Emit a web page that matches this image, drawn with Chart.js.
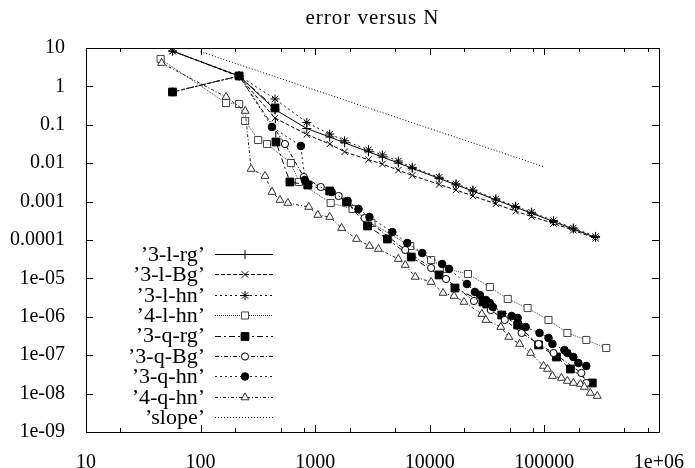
<!DOCTYPE html>
<html><head><meta charset="utf-8">
<script src="https://cdn.jsdelivr.net/npm/chart.js@4.4.1/dist/chart.umd.min.js"></script>
<style>html,body{margin:0;padding:0;background:#fff}canvas{display:block}</style>
</head><body>
<canvas id="c" width="695" height="468"></canvas>
<script>
// ---------- data ----------
const N_3l      = [57, 217, 446, 845, 1340, 1807, 2920, 3860, 5320, 7030, 12070, 16950, 23800, 37700, 56200, 77400, 120200, 179000, 280000];
const err_3l_rg = [8.3, 1.86, 0.25, 0.080, 0.048, 0.034, 0.0198, 0.0145, 0.0101, 0.00736, 0.00402, 0.00274, 0.00188, 0.00111, 0.000711, 0.000496, 0.000303, 0.000193, 0.000117];
const err_3l_Bg = [8.3, 1.8, 0.15, 0.056, 0.0315, 0.0198, 0.0123, 0.0095, 0.0066, 0.0048, 0.0028, 0.0020, 0.0014, 0.00087, 0.00056, 0.00041, 0.00027, 0.00018, 0.00011];
const err_3l_hn = [8.3, 1.9, 0.47, 0.115, 0.0575, 0.0384, 0.0223, 0.0164, 0.0114, 0.0078, 0.0043, 0.0029, 0.0020, 0.00118, 0.00075, 0.00053, 0.00032, 0.000205, 0.000124];

const N_4l_hn   = [44.8, 167, 217, 245, 318, 380, 614, 721, 1366, 2120, 3100, 6760, 10280, 14160, 21550, 33420, 47950, 71450, 108700, 158900, 232300, 346700];
const err_4l_hn = [5.17, 0.37, 0.348, 0.1256, 0.0402, 0.0316, 0.0101, 0.00324, 0.00092, 0.000641, 0.000277, 6.98e-5, 3.01e-5, 1.76e-5, 1.30e-5, 5.97e-6, 2.91e-6, 1.69e-6, 8.26e-7, 3.79e-7, 2.49e-7, 1.54e-7];

const N_3q_rg   = [56.9, 217, 446, 455, 602, 862, 1340, 1881, 2862, 4266, 6896, 12070, 16600, 29100, 31500, 42500, 58500, 89100, 127600, 168700, 262000];
const err_3q_rg = [0.715, 1.87, 0.274, 0.0357, 0.00324, 0.0027, 0.00189, 0.000977, 0.000232, 0.000106, 3.61e-5, 1.23e-5, 5.62e-6, 2.43e-6, 2.15e-6, 1.11e-6, 6.11e-7, 1.85e-7, 8.98e-8, 4.37e-8, 1.89e-8];

const N_3q_Bg   = [56.9, 217, 545, 796, 1119, 1603, 2697, 6112, 10280, 13870, 24300, 34100, 45150, 63400, 89100, 120200, 210400, 232300];
const err_3q_Bg = [0.715, 1.87, 0.0316, 0.00437, 0.0024, 0.0014, 0.000374, 5.5e-5, 1.87e-5, 9.64e-6, 2.58e-6, 1.5e-6, 8.26e-7, 3.79e-7, 1.96e-7, 1.14e-7, 3.44e-8, 1.89e-8];

const N_3q_hn   = [56.9, 217, 420, 750, 812, 1393, 1919, 2390, 2978, 4717, 6368, 8590, 12820, 14730, 21130, 24780, 27380, 30900, 33420, 35500, 51900, 58500, 68700, 90800, 108700, 117800, 149700, 158900, 179200, 198100, 232300];
const err_3q_hn = [0.715, 1.87, 0.0877, 0.0281, 0.00365, 0.00178, 0.00104, 0.000641, 0.000397, 0.000161, 8.36e-5, 4.58e-5, 2.37e-5, 1.76e-5, 7.15e-6, 4.43e-6, 3.7e-6, 2.74e-6, 2.29e-6, 1.8e-6, 1.05e-6, 9.31e-7, 5.42e-7, 3.79e-7, 2.81e-7, 1.96e-7, 1.36e-7, 1.14e-7, 8.98e-8, 6.27e-8, 5.24e-8];

const N_4q_hn   = [45.7, 167, 245, 276, 365, 420, 493, 578, 880, 1054, 1340, 1702, 2297, 2978, 3566, 5320, 6112, 7470, 10280, 13070, 16290, 19900, 28500, 30900, 41700, 48900, 60900, 75900, 98400, 106600, 117800, 141000, 158900, 179200, 206200, 223400, 251800, 289500];
const err_4q_hn = [4.06, 0.53, 0.229, 0.00706, 0.00464, 0.00178, 0.0011, 0.00092, 0.000723, 0.000448, 0.000397, 0.000205, 0.000106, 6.98e-5, 5.83e-5, 3.2e-5, 2.23e-5, 1.09e-5, 8.05e-6, 4.17e-6, 3.48e-6, 2.43e-6, 1.18e-6, 8.26e-7, 5.42e-7, 2.98e-7, 1.96e-7, 1.14e-7, 5.24e-8, 4.37e-8, 2.87e-8, 2.55e-8, 2.13e-8, 1.89e-8, 1.78e-8, 1.49e-8, 1.04e-8, 8.66e-9];

const N_slope   = [100, 100000];
const err_slope = [8, 0.008];

const seriesNames = ["’3-l-rg’", "’3-l-Bg’", "’3-l-hn’", "’4-l-hn’", "’3-q-rg’", "’3-q-Bg’", "’3-q-hn’", "’4-q-hn’", "’slope’"];

const X_TICKS  = [10, 100, 1000, 10000, 100000, 1000000];
const X_LABELS = ['10', '100', '1000', '10000', '100000', '1e+06'];
const X_MINOR  = [20, 200, 500, 800, 2000, 5000, 20000, 50000, 80000, 200000, 500000, 800000];
const Y_TICKS  = [10, 1, 0.1, 0.01, 0.001, 0.0001, 1e-5, 1e-6, 1e-7, 1e-8, 1e-9];
const Y_LABELS = ['10', '1', '0.1', '0.01', '0.001', '0.0001', '1e-05', '1e-06', '1e-07', '1e-08', '1e-09'];
const TITLE = 'error versus N';

// ---------- styles ----------
const FONT = '"Liberation Serif", "DejaVu Serif", serif';
const pts = (xs, ys) => xs.map((x, i) => ({x: x, y: ys[i]}));
const styles = [
  {data: pts(N_3l, err_3l_rg), dash: [], color: '#000', ps: 'cross', r: 4.5, fill: '#000', pc: '#000'},
  {data: pts(N_3l, err_3l_Bg), dash: [4, 2], color: '#000', ps: 'crossRot', r: 4.5, fill: '#000', pc: '#000'},
  {data: pts(N_3l, err_3l_hn), dash: [2, 3], color: '#111', ps: 'star', r: 4.5, fill: '#000', pc: '#000'},
  {data: pts(N_4l_hn, err_4l_hn), dash: [1, 1], color: '#444', ps: 'rect', r: 5, fill: '#fff', pc: '#444'},
  {data: pts(N_3q_rg, err_3q_rg), dash: [6, 3, 2, 3], color: '#000', ps: 'rect', r: 5.5, fill: '#000', pc: '#000'},
  {data: pts(N_3q_Bg, err_3q_Bg), dash: [4, 2, 1, 2], color: '#000', ps: 'circle', r: 3.6, fill: '#fff', pc: '#000'},
  {data: pts(N_3q_hn, err_3q_hn), dash: [2, 3], color: '#222', ps: 'circle', r: 3.8, fill: '#000', pc: '#000'},
  {data: pts(N_4q_hn, err_4q_hn), dash: [3, 2, 1, 2], color: '#222', ps: 'triangle', r: 4.6, fill: '#fff', pc: '#333'},
  {data: pts(N_slope, err_slope), dash: [1, 2], color: '#000', ps: false, r: 0, fill: '#000', pc: '#000'}
];

const datasets = styles.map((s, i) => ({
  label: seriesNames[i],
  data: s.data,
  borderColor: s.color,
  borderWidth: 1,
  borderDash: s.dash,
  pointStyle: s.ps,
  pointRadius: s.r,
  pointHoverRadius: s.r,
  pointBackgroundColor: s.fill,
  pointBorderColor: s.pc,
  pointBorderWidth: 1,
  fill: false,
  tension: 0,
  order: -i
}));

// ---------- plugins ----------
const framePlugin = {
  id: 'frame',
  beforeDatasetsDraw(chart) {
    const {ctx, chartArea: a, scales: {x, y}} = chart;
    ctx.save();
    ctx.strokeStyle = '#000';
    ctx.lineWidth = 1;
    ctx.setLineDash([]);
    ctx.beginPath();
    ctx.rect(Math.round(a.left) + 0.5, Math.round(a.top) + 0.5, Math.round(a.right - a.left), Math.round(a.bottom - a.top));
    ctx.stroke();
    ctx.beginPath();
    const major = 7, minor = 4;
    X_TICKS.forEach(v => {
      const px = Math.round(x.getPixelForValue(v)) + 0.5;
      ctx.moveTo(px, a.bottom); ctx.lineTo(px, a.bottom - major);
      ctx.moveTo(px, a.top); ctx.lineTo(px, a.top + major);
    });
    X_MINOR.forEach(v => {
      const px = Math.round(x.getPixelForValue(v)) + 0.5;
      ctx.moveTo(px, a.bottom); ctx.lineTo(px, a.bottom - minor);
      ctx.moveTo(px, a.top); ctx.lineTo(px, a.top + minor);
    });
    Y_TICKS.forEach(v => {
      const py = Math.round(y.getPixelForValue(v)) + 0.5;
      ctx.moveTo(a.left, py); ctx.lineTo(a.left + major, py);
      ctx.moveTo(a.right, py); ctx.lineTo(a.right - major, py);
    });
    ctx.stroke();
    // title
    ctx.fillStyle = '#000';
    ctx.font = '21px ' + FONT;
    if ('letterSpacing' in ctx) ctx.letterSpacing = '1px';
    ctx.textAlign = 'center';
    ctx.textBaseline = 'middle';
    ctx.fillText(TITLE, (a.left + a.right) / 2, 18);
    if ('letterSpacing' in ctx) ctx.letterSpacing = '0px';
    ctx.restore();
  }
};

const legendPlugin = {
  id: 'gpLegend',
  afterDraw(chart) {
    const ctx = chart.ctx;
    ctx.save();
    const textRight = 205, lineL = 215, lineR = 273, markX = 245, y0 = 254, dy = 20.4;
    chart.data.datasets.forEach((ds, i) => {
      const y = y0 + i * dy;
      ctx.fillStyle = '#000';
      ctx.font = '22px ' + FONT;
      ctx.textAlign = 'right';
      ctx.textBaseline = 'middle';
      ctx.setLineDash([]);
      ctx.fillText(ds.label, textRight, y + 1);
      ctx.strokeStyle = ds.borderColor;
      ctx.lineWidth = 1;
      ctx.setLineDash(ds.borderDash);
      ctx.beginPath();
      ctx.moveTo(lineL, Math.round(y) + 0.5);
      ctx.lineTo(lineR, Math.round(y) + 0.5);
      ctx.stroke();
      ctx.setLineDash([]);
      if (ds.pointStyle) {
        ctx.fillStyle = ds.pointBackgroundColor;
        ctx.strokeStyle = ds.pointBorderColor;
        Chart.helpers.drawPoint(ctx, {pointStyle: ds.pointStyle, radius: ds.pointRadius, borderWidth: 1, rotation: 0}, markX, Math.round(y) + 0.5);
      }
    });
    ctx.restore();
  }
};

new Chart(document.getElementById('c'), {
  type: 'line',
  data: {datasets: datasets},
  plugins: [framePlugin, legendPlugin],
  options: {
    responsive: false,
    animation: false,
    devicePixelRatio: 1,
    layout: {padding: {top: 48, right: 33, left: 0, bottom: 0}},
    plugins: {legend: {display: false}, title: {display: false}, tooltip: {enabled: false}},
    events: [],
    scales: {
      x: {
        type: 'logarithmic', min: 10, max: 1e6, position: 'bottom',
        grid: {display: false}, border: {display: false},
        ticks: {color: '#000', font: {family: FONT, size: 20}, padding: 11, maxRotation: 0, autoSkip: false,
          callback: (v, i) => X_LABELS[i]},
        afterBuildTicks: s => { s.ticks = X_TICKS.map(v => ({value: v})); },
        afterFit: s => { s.height = 36; }
      },
      y: {
        type: 'logarithmic', min: 1e-9, max: 10, position: 'left',
        grid: {display: false}, border: {display: false},
        ticks: {color: '#000', font: {family: FONT, size: 20}, padding: 13, autoSkip: false,
          callback: (v, i) => Y_LABELS[i]},
        afterBuildTicks: s => { s.ticks = Y_TICKS.map(v => ({value: v})); },
        afterFit: s => { s.width = 86; }
      }
    }
  }
});
</script>
</body></html>
